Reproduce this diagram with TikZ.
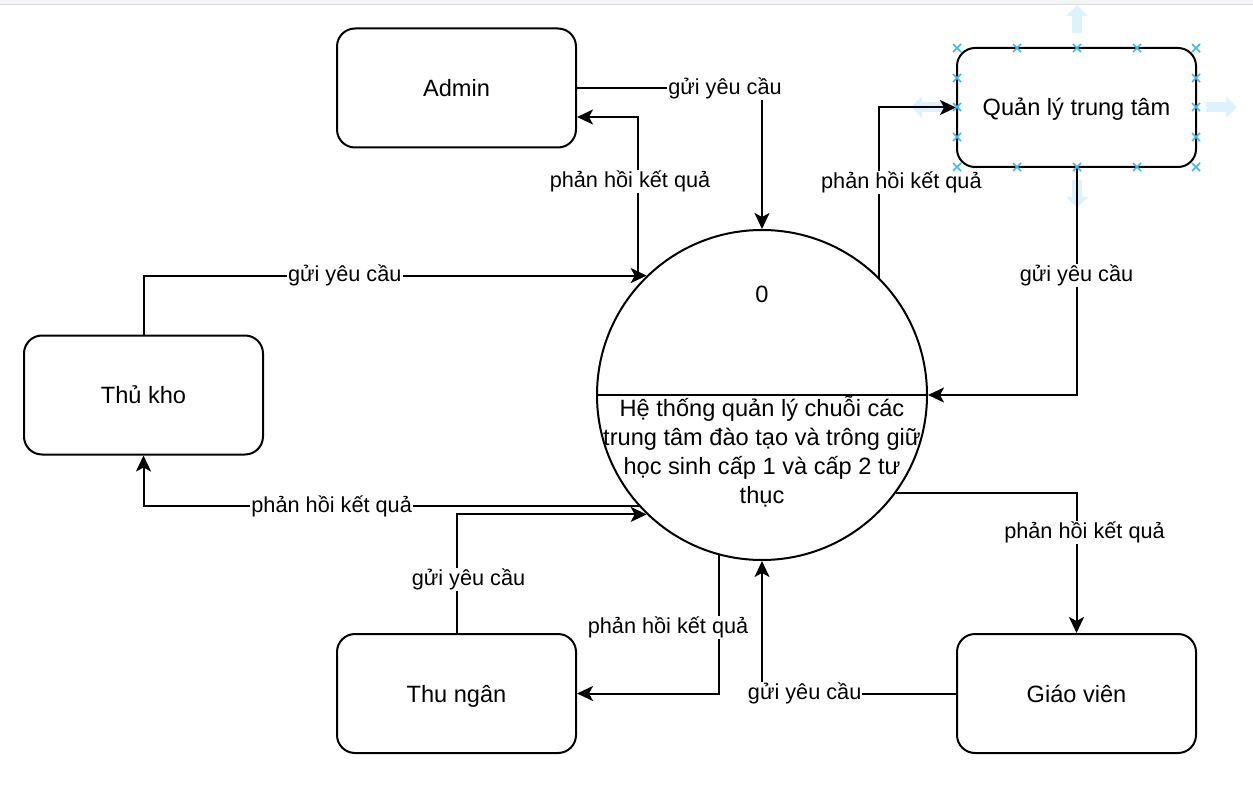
\documentclass[tikz,border=0pt]{standalone}
\usepackage{fontspec}
\setmainfont{Liberation Sans}
\usetikzlibrary{arrows.meta}
\definecolor{selblue}{HTML}{3DB8F0}
\definecolor{selfade}{HTML}{DDF2FC}
\definecolor{barline}{HTML}{DADCE0}
\definecolor{barfill}{HTML}{F3F4F5}

\begin{document}
\begin{tikzpicture}[x=1pt,y=-1pt,
    ent/.style={draw,line width=2pt,rounded corners=18pt,minimum width=239pt,minimum height=119pt,text height=17pt,text depth=0pt,font=\fontsize{23.6}{29}\selectfont},
    flow/.style={line width=2pt,-{Stealth[length=16pt,width=15pt,inset=4pt]}},
    lbl/.style={fill=white,inner sep=1pt,font=\fontsize{21.7}{26}\selectfont},
    selx/.style={selblue,line width=1.5pt},
    selarr/.style={selfade,line width=10pt,-{Triangle[length=11pt,width=21pt]}}]
    \useasboundingbox (0,0) rectangle (1253,797);
    \fill[barfill] (0,0) rectangle (1253,4);
    \draw[barline, line width=1pt] (0,4.5) -- (1253,4.5);

    % selection arrows round Quan ly trung tam
    \draw[selarr] (1077,33) -- (1077,5);
    \draw[selarr] (1077,180) -- (1077,208);
    \draw[selarr] (1206,107) -- (1237,107);
    \draw[selarr] (945,107) -- (911,107);

    \node[ent] (admin) at (456.5,88) {Admin};
    \node[ent] (qltt) at (1076.5,107.5) {Quản lý trung tâm};
    \node[ent] (thukho) at (143.5,395) {Thủ kho};
    \node[ent] (thungan) at (456.5,693.5) {Thu ngân};
    \node[ent] (giaovien) at (1076.5,693.5) {Giáo viên};

    \node[draw,circle,line width=2pt,minimum size=330pt,inner sep=0pt] (sys) at (762,395) {};
    \draw[line width=2pt] (sys.west) -- (sys.east);
    \node[font=\fontsize{23.6}{29}\selectfont] (zero) at (762,294) {0};
    \node[align=center,font=\fontsize{23.6}{29}\selectfont] (sysname) at (762,452) {Hệ thống quản lý chuỗi các\\trung tâm đào tạo và trông giữ\\học sinh cấp 1 và cấp 2 tư\\thục};

    % Admin
    \draw[flow] (admin.east) -| node[lbl,pos=0.4] (l1) {gửi yêu cầu} (sys.north);
    \coordinate (afb) at (638,279);
    \draw[flow] (afb) |- node[lbl,pos=0.3,xshift=-8pt] (l2) {phản hồi kết quả} ([yshift=-29pt]admin.east);

    % Thu kho
    \draw[flow] (thukho.north) |- node[lbl,pos=0.7] (l3) {gửi yêu cầu} (sys.134);
    \draw[flow] (sys.222) -| node[lbl,pos=0.31] (l4) {phản hồi kết quả} (thukho.south);

    % Thu ngan
    \draw[flow] (thungan.north) |- node[lbl,pos=0.225,xshift=12pt] (l5) {gửi yêu cầu} (sys.226);
    \draw[flow] (sys.255) |- node[lbl,pos=0.26,xshift=-51pt] (l6) {phản hồi kết quả} (thungan.east);

    % Giao vien
    \draw[flow] (giaovien.west) -| node[lbl,pos=0.39] (l7) {gửi yêu cầu} (sys.south);
    \draw[flow] (sys.324) -| node[lbl,pos=0.643,xshift=8pt] (l8) {phản hồi kết quả} (giaovien.north);

    % Quan ly trung tam
    \draw[flow] (sys.45) |- node[lbl,pos=0.28,xshift=22pt] (l9) {phản hồi kết quả} (qltt.west);
    \draw[flow] (qltt.south) |- node[lbl,pos=0.237] (l10) {gửi yêu cầu} (sys.east);

    % selection marks
    \foreach \x in {957,1017,1077,1137,1196} {
        \draw[selx] (\x,48) +(-4,-4) -- +(4,4) +(-4,4) -- +(4,-4);
        \draw[selx] (\x,167) +(-4,-4) -- +(4,4) +(-4,4) -- +(4,-4);
    }
    \foreach \x in {957,1196} \foreach \y in {78,107,137}
        \draw[selx] (\x,\y) +(-4,-4) -- +(4,4) +(-4,4) -- +(4,-4);
\end{tikzpicture}
\end{document}
